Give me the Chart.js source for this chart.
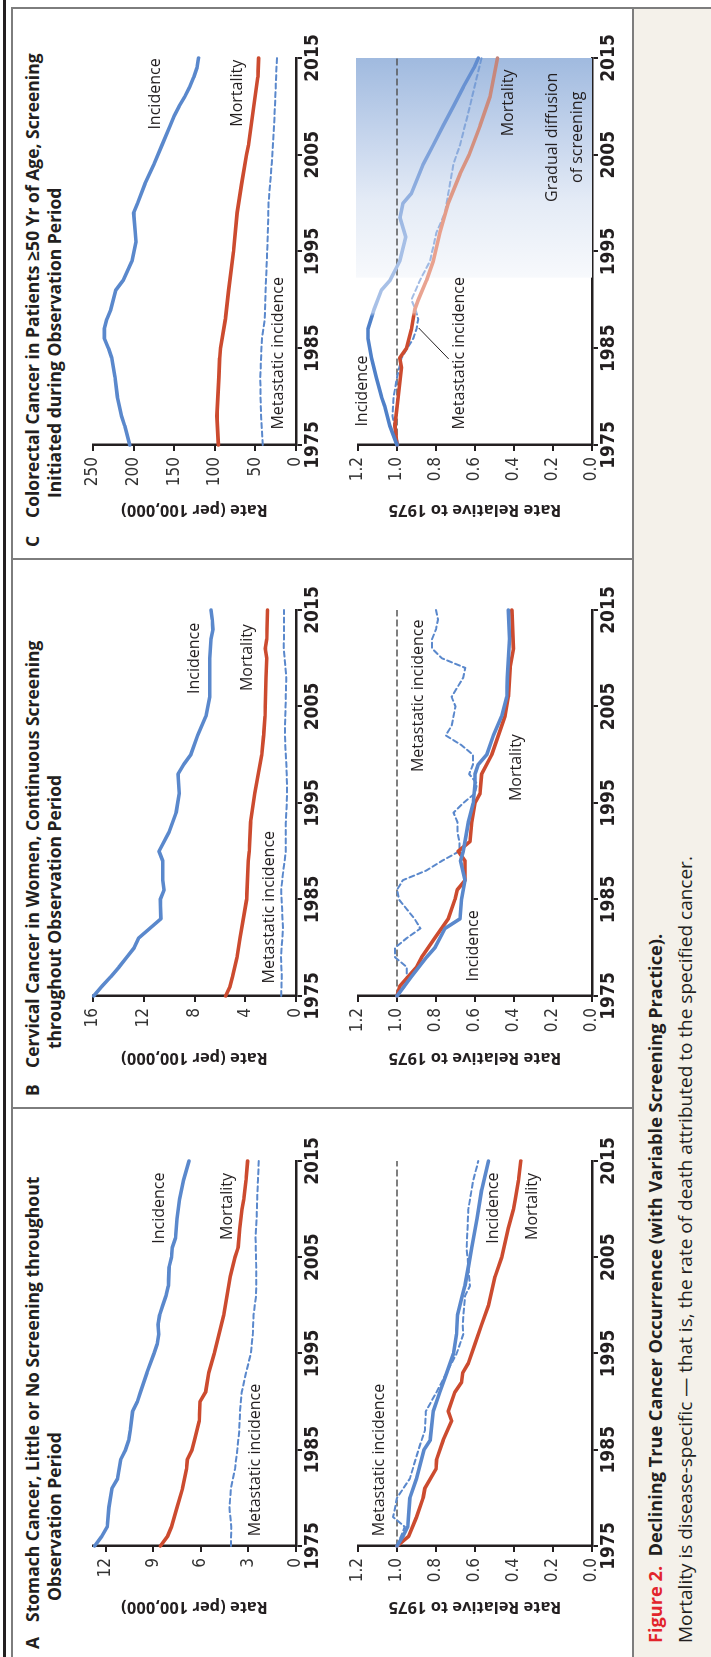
<!DOCTYPE html>
<html>
<head>
<meta charset="utf-8">
<script src="https://cdn.jsdelivr.net/npm/chart.js@4.4.1/dist/chart.umd.min.js"></script>
<style>
html, body { margin: 0; padding: 0; width: 711px; height: 1657px; overflow: hidden; background: #fff; }
/* figure is laid out lying down (1657 x 711) and turned a quarter turn */
#fig { position: absolute; left: 0; top: 0; width: 1657px; height: 711px; transform-origin: 0 0;
       transform: translateY(1657px) rotate(-90deg); background: #fff; font-family: 'Open Sans', Lato, sans-serif; color: #231f20; }
.rule { position: absolute; background: #7d7d7d; }
.ttl { position: absolute; font-weight: bold; font-size: 17.5px; line-height: 20px; white-space: nowrap; }
.cap { position: absolute; line-height: 24px; white-space: nowrap; }
canvas { position: absolute; }
</style>
</head>
<body>
<div id="fig">
  <div style="position:absolute;left:0;top:633px;width:1649px;height:78px;background:#f4f1ea"></div>
  <div style="position:absolute;left:0;top:3px;width:1657px;height:3px;background:#231f20"></div>
  <div class="rule" style="left:0;top:11px;width:1649px;height:1.5px"></div>
  <div class="rule" style="left:1648px;top:11px;width:1.5px;height:700px"></div>
  <div class="rule" style="left:548px;top:11px;width:1.5px;height:622px"></div>
  <div class="rule" style="left:1097px;top:11px;width:1.5px;height:622px"></div>
  <div class="rule" style="left:0;top:632px;width:1649px;height:1.5px"></div>

  <div class="ttl" style="left:8px;top:22px">A</div>
  <div class="ttl" style="left:35px;top:22px">Stomach Cancer, Little or No Screening throughout</div>
  <div class="ttl" style="left:56px;top:44px">Observation Period</div>
  <div class="ttl" style="left:561px;top:22px">B</div>
  <div class="ttl" style="left:589px;top:22px">Cervical Cancer in Women, Continuous Screening</div>
  <div class="ttl" style="left:608px;top:44px">throughout Observation Period</div>
  <div class="ttl" style="left:1110px;top:22px">C</div>
  <div class="ttl" style="left:1139px;top:22px">Colorectal Cancer in Patients ≥50 Yr of Age, Screening</div>
  <div class="ttl" style="left:1159px;top:44px">Initiated during Observation Period</div>

  <div class="cap" style="left:14px;top:643px;font-weight:bold;font-size:18.2px"><span style="color:#e2242b">Figure 2.</span>&nbsp; Declining True Cancer Occurrence (with Variable Screening Practice).</div>
  <div class="cap" style="left:14px;top:673px;font-size:19px">Mortality is disease-specific — that is, the rate of death attributed to the specified cancer.</div>

  <canvas id="aTop" width="548" height="300" style="left:0;top:40px"></canvas>
  <canvas id="aRel" width="548" height="292" style="left:0;top:340px"></canvas>
  <canvas id="bTop" width="548" height="300" style="left:549px;top:40px"></canvas>
  <canvas id="bRel" width="548" height="292" style="left:549px;top:340px"></canvas>
  <canvas id="cTop" width="553" height="300" style="left:1097px;top:40px"></canvas>
  <canvas id="cRel" width="553" height="292" style="left:1097px;top:340px"></canvas>
</div>

<script>
// ---------- values ----------
var yearTicks = [1975, 1985, 1995, 2005, 2015];
var relTicks = [0, 0.2, 0.4, 0.6, 0.8, 1.0, 1.2];
var refYears = [1975, 2015];
var refLevel = [1, 1];

// A  stomach cancer, per 100,000
var aTicks = [0, 3, 6, 9, 12];
var aIncYears = [1975, 1976, 1977, 1979, 1981, 1982, 1984, 1985, 1986, 1987, 1989, 1990, 1991, 1993, 1995, 1996, 1997, 1998, 1999, 2000, 2001, 2002, 2004, 2005, 2006, 2007, 2009, 2011, 2013, 2015];
var aInc = [12.7, 12.25, 11.9, 11.8, 11.6, 11.25, 11.05, 10.75, 10.55, 10.45, 10.3, 10.0, 9.8, 9.4, 8.95, 8.75, 8.65, 8.7, 8.6, 8.4, 8.2, 8.05, 8.0, 7.85, 7.8, 7.6, 7.5, 7.35, 7.1, 6.75];
var aMortYears = [1975, 1976, 1977, 1979, 1981, 1983, 1984, 1985, 1986, 1988, 1990, 1991, 1993, 1995, 1997, 1999, 2001, 2003, 2005, 2006, 2008, 2010, 2011, 2013, 2015];
var aMort = [8.55, 8.1, 7.85, 7.5, 7.15, 6.9, 6.85, 6.55, 6.4, 6.1, 6.05, 5.7, 5.5, 5.15, 4.85, 4.55, 4.35, 4.15, 3.85, 3.65, 3.55, 3.4, 3.3, 3.15, 3.05];
var aMetYears = [1975, 1977, 1979, 1981, 1983, 1985, 1987, 1989, 1991, 1993, 1995, 1997, 1999, 2001, 2003, 2005, 2007, 2009, 2011, 2013, 2015];
var aMet = [4.1, 4.08, 4.2, 4.1, 3.85, 3.7, 3.58, 3.53, 3.42, 3.15, 2.85, 2.72, 2.68, 2.52, 2.5, 2.52, 2.55, 2.48, 2.45, 2.4, 2.35];
// A  relative to 1975
var aRelIncYears = [1975, 1976, 1977, 1980, 1982, 1985, 1986, 1989, 1991, 1993, 1995, 1997, 1999, 2001, 2002, 2004, 2006, 2009, 2012, 2015];
var aRelInc = [1.0, 0.97, 0.945, 0.934, 0.9, 0.862, 0.83, 0.814, 0.78, 0.745, 0.71, 0.695, 0.69, 0.665, 0.652, 0.634, 0.617, 0.59, 0.566, 0.531];
var aRelMortYears = [1975, 1976, 1978, 1980, 1981, 1983, 1984, 1986, 1988, 1989, 1991, 1992, 1993, 1994, 1996, 1998, 2000, 2003, 2005, 2008, 2010, 2011, 2013, 2015];
var aRelMort = [1.0, 0.94, 0.9, 0.866, 0.857, 0.8, 0.797, 0.763, 0.72, 0.737, 0.703, 0.669, 0.663, 0.634, 0.6, 0.566, 0.531, 0.497, 0.463, 0.429, 0.403, 0.394, 0.377, 0.365];
var aRelMetYears = [1975, 1977, 1978, 1980, 1982, 1985, 1987, 1989, 1991, 1994, 1995, 1997, 1998, 2001, 2002, 2004, 2006, 2010, 2011, 2013, 2015];
var aRelMet = [1.0, 0.96, 1.02, 1.0, 0.934, 0.89, 0.857, 0.852, 0.797, 0.72, 0.694, 0.66, 0.663, 0.651, 0.626, 0.634, 0.643, 0.634, 0.626, 0.609, 0.583];

// B  cervical cancer, per 100,000
var bTicks = [0, 4, 8, 12, 16];
var bIncYears = [1975, 1976, 1977, 1978, 1979, 1980, 1981, 1983, 1985, 1986, 1987, 1989, 1990, 1992, 1994, 1996, 1998, 1999, 2000, 2002, 2004, 2006, 2008, 2010, 2012, 2013, 2014, 2015];
var bInc = [15.95, 15.3, 14.6, 13.95, 13.35, 12.75, 12.4, 10.65, 10.7, 10.4, 10.5, 10.5, 10.8, 10.0, 9.45, 9.2, 9.3, 8.85, 8.3, 7.75, 7.1, 6.8, 6.8, 6.8, 6.7, 6.55, 6.6, 6.7];
var bMortYears = [1975, 1976, 1977, 1979, 1981, 1985, 1989, 1990, 1993, 1996, 1998, 2000, 2002, 2004, 2008, 2010, 2011, 2012, 2015];
var bMort = [5.54, 5.2, 5.0, 4.65, 4.42, 3.89, 3.76, 3.68, 3.58, 3.25, 2.97, 2.7, 2.55, 2.44, 2.36, 2.3, 2.42, 2.3, 2.25];
var bMetYears = [1975, 1977, 1979, 1982, 1986, 1988, 1990, 1993, 1996, 1998, 2002, 2005, 2008, 2011, 2015];
var bMet = [1.17, 1.12, 1.18, 1.03, 1.17, 1.0, 0.8, 0.8, 0.7, 0.73, 0.88, 0.82, 0.77, 0.96, 0.94];
// B  relative to 1975
var bRelIncYears = [1975, 1977, 1979, 1980, 1982, 1983, 1985, 1987, 1989, 1990, 1993, 1995, 1997, 1998, 1999, 2000, 2002, 2004, 2006, 2008, 2012, 2015];
var bRelInc = [1.0, 0.926, 0.849, 0.806, 0.754, 0.677, 0.669, 0.651, 0.674, 0.66, 0.634, 0.609, 0.6, 0.6, 0.583, 0.54, 0.506, 0.463, 0.437, 0.434, 0.423, 0.429];
var bRelMortYears = [1975, 1976, 1977, 1978, 1979, 1981, 1983, 1985, 1986, 1987, 1989, 1990, 1991, 1993, 1995, 1996, 1998, 2000, 2004, 2006, 2009, 2011, 2015];
var bRelMort = [1.0, 0.986, 0.943, 0.9, 0.874, 0.806, 0.737, 0.703, 0.691, 0.651, 0.651, 0.686, 0.626, 0.617, 0.6, 0.574, 0.566, 0.514, 0.446, 0.429, 0.42, 0.403, 0.411];
var bRelMetYears = [1975, 1976, 1977, 1978, 1979, 1980, 1981, 1982, 1983, 1984, 1985, 1986, 1987, 1988, 1989, 1990, 1991, 1992, 1993, 1994, 1995, 1996, 1997, 1998, 1999, 2000, 2001, 2002, 2003, 2004, 2005, 2006, 2007, 2008, 2009, 2010, 2011, 2012, 2013, 2014, 2015];
var bRelMet = [1.0, 0.96, 0.95, 0.95, 1.01, 1.01, 0.95, 0.88, 0.91, 0.95, 0.99, 1.0, 0.97, 0.85, 0.77, 0.68, 0.68, 0.69, 0.69, 0.71, 0.66, 0.6, 0.59, 0.63, 0.61, 0.61, 0.67, 0.75, 0.72, 0.71, 0.7, 0.72, 0.69, 0.66, 0.65, 0.77, 0.82, 0.82, 0.8, 0.79, 0.8];

// C  colorectal cancer, per 100,000
var cTicks = [0, 50, 100, 150, 200, 250];
var cIncYears = [1975, 1977, 1978, 1980, 1982, 1984, 1985, 1986, 1987, 1988, 1989, 1991, 1992, 1994, 1996, 1997, 1999, 2000, 2002, 2004, 2006, 2008, 2009, 2010, 2011, 2012, 2013, 2014, 2015];
var cInc = [204.7, 211, 215, 220, 223, 227, 231, 236, 236, 233, 228, 222, 213, 202, 197, 198, 200, 195, 186, 175, 165, 155, 150, 144, 137, 131, 126, 122, 120];
var cMortYears = [1975, 1978, 1982, 1984, 1985, 1988, 1991, 1995, 1999, 2002, 2005, 2006, 2010, 2013, 2015];
var cMort = [95.6, 97.5, 95, 94, 93, 87, 83, 77, 72.5, 67, 61, 58.5, 52, 47, 46];
var cMetYears = [1975, 1979, 1982, 1986, 1988, 1992, 1996, 2000, 2004, 2008, 2012, 2015];
var cMet = [41, 43.5, 44, 42, 38.5, 37, 35, 33.8, 30, 27, 25, 23.5];
// C  relative to 1975
var cRelIncYears = [1975, 1977, 1979, 1980, 1982, 1984, 1986, 1987, 1989, 1991, 1992, 1994, 1996.5, 1998.5, 2000, 2001, 2004, 2006, 2008, 2010, 2012, 2014, 2015];
var cRelInc = [1.0, 1.037, 1.063, 1.08, 1.106, 1.131, 1.149, 1.149, 1.118, 1.08, 1.037, 0.986, 0.955, 0.985, 0.969, 0.926, 0.866, 0.814, 0.763, 0.711, 0.66, 0.605, 0.583];
var cRelMortYears = [1975, 1977, 1980, 1983, 1984, 1985, 1987, 1989, 1990, 1992, 1994, 1997, 2000, 2003, 2005, 2008, 2011, 2015];
var cRelMort = [1.0, 1.011, 0.994, 0.977, 0.986, 0.951, 0.926, 0.909, 0.891, 0.849, 0.814, 0.78, 0.737, 0.677, 0.63, 0.574, 0.523, 0.485];
var cRelMetYears = [1975, 1978, 1980, 1982, 1984, 1986, 1987, 1988, 1989, 1990, 1992, 1994, 1997, 1999, 2001, 2004, 2006, 2010, 2013, 2015];
var cRelMet = [0.994, 1.023, 1.017, 1.0, 0.977, 0.917, 0.9, 0.891, 0.905, 0.926, 0.883, 0.831, 0.797, 0.754, 0.737, 0.711, 0.677, 0.626, 0.591, 0.566];

// ---------- drawing ----------
var INK = '#231f20';
var BLUE = '#5a88cc';
var RED = '#cc4b2f';
var NARROW = "'Liberation Sans Narrow', 'DejaVu Sans Condensed', 'Arial Narrow', sans-serif";
var TEXT = "'Open Sans', Lato, sans-serif";

function pts(xs, ys) {
    return xs.map(function (x, i) { return { x: x, y: ys[i] }; });
}

function solid(xs, ys, color) {
    return { data: pts(xs, ys), borderColor: color, borderWidth: 3.6, clip: false };
}

function dashed(xs, ys, color) {
    return { data: pts(xs, ys), borderColor: color, borderWidth: 2, borderDash: [5, 3.5], clip: false };
}

function refLine() {
    return { data: pts(refYears, refLevel), borderColor: '#555', borderWidth: 1.3, borderDash: [6, 4] };
}

// colour that changes along the time axis (panel C, screening period)
function fade(stops) {
    return function (ctx) {
        var chart = ctx.chart;
        if (!chart.chartArea) return stops[0][1];
        var xs = chart.scales.x;
        var g = chart.ctx.createLinearGradient(xs.getPixelForValue(1975), 0, xs.getPixelForValue(2015), 0);
        stops.forEach(function (s) { g.addColorStop((s[0] - 1975) / 40, s[1]); });
        return g;
    };
}

// text labels, leader line and the shaded box, placed in data units
function notes(id, items, extra) {
    extra = extra || {};
    return {
        id: id,
        beforeDatasetsDraw: function (chart) {
            if (!extra.box) return;
            var c = chart.ctx, x = chart.scales.x, y = chart.scales.y;
            var x0 = x.getPixelForValue(extra.box.from), x1 = x.getPixelForValue(2015);
            var y0 = y.getPixelForValue(1.2) - 2, y1 = y.getPixelForValue(0);
            var g = c.createLinearGradient(x0, 0, x1, 0);
            extra.box.stops.forEach(function (s) { g.addColorStop(s[0], s[1]); });
            c.save();
            c.fillStyle = g;
            c.fillRect(x0, y0, x1 - x0, y1 - y0);
            c.restore();
        },
        afterDatasetsDraw: function (chart) {
            var c = chart.ctx, x = chart.scales.x, y = chart.scales.y;
            c.save();
            c.fillStyle = INK;
            c.font = '16px ' + TEXT;
            c.textBaseline = 'middle';
            items.forEach(function (t) {
                c.textAlign = t[3] || 'left';
                c.fillText(t[0], x.getPixelForValue(t[1]), y.getPixelForValue(t[2]));
            });
            if (extra.leader) {
                var l = extra.leader;
                c.strokeStyle = INK;
                c.lineWidth = 1;
                c.beginPath();
                c.moveTo(x.getPixelForValue(l[0]), y.getPixelForValue(l[1]));
                c.lineTo(x.getPixelForValue(l[2]), y.getPixelForValue(l[3]));
                c.stroke();
            }
            c.restore();
        }
    };
}

function makeChart(id, cfg) {
    return new Chart(document.getElementById(id), {
        type: 'line',
        data: { datasets: cfg.datasets },
        options: {
            responsive: false,
            animation: false,
            events: [],
            layout: { padding: { left: 0, top: cfg.padTop, right: cfg.padRight, bottom: 0 } },
            plugins: { legend: { display: false }, tooltip: { enabled: false } },
            elements: {
                point: { radius: 0 },
                line: { tension: 0, borderJoinStyle: 'round', borderCapStyle: 'round' }
            },
            scales: {
                x: {
                    type: 'linear', min: 1975, max: 2015,
                    afterBuildTicks: function (s) { s.ticks = yearTicks.map(function (v) { return { value: v }; }); },
                    afterFit: function (s) { s.height = cfg.xH; },
                    ticks: {
                        callback: function (v) { return String(v); },
                        font: { family: NARROW, size: 19, weight: 'bold' }, color: INK,
                        padding: 0, maxRotation: 0, autoSkip: false
                    },
                    grid: { drawOnChartArea: false, drawTicks: true, tickLength: 6, color: INK, lineWidth: 2 },
                    border: { display: true, color: INK, width: 2.5 }
                },
                y: {
                    min: 0, max: cfg.max,
                    afterBuildTicks: function (s) { s.ticks = cfg.ticks.map(function (v) { return { value: v }; }); },
                    afterFit: function (s) { s.width = cfg.yW; },
                    ticks: {
                        callback: cfg.fmt,
                        font: { family: NARROW, size: 17 }, color: '#333',
                        padding: 6, autoSkip: false
                    },
                    grid: { drawOnChartArea: false, drawTicks: true, tickLength: 6, color: INK, lineWidth: 2 },
                    border: { display: true, color: INK, width: 2.5 },
                    title: {
                        display: true, text: cfg.title, color: INK,
                        font: { family: TEXT, size: 16.5, weight: 'bold' },
                        padding: { top: 40, bottom: 0 }
                    }
                }
            }
        },
        plugins: [notes(id + 'Notes', cfg.labels, cfg.extra)]
    });
}

var asInt = function (v) { return String(v); };
var asRel = function (v) { return v.toFixed(1); };
var TOP = { padTop: 53, xH: 44, title: 'Rate (per 100,000)', fmt: asInt };
var REL = { padTop: 18, xH: 40, title: 'Rate Relative to 1975', fmt: asRel, max: 1.2, ticks: relTicks };

function build(base, more) {
    var o = {};
    Object.keys(base).forEach(function (k) { o[k] = base[k]; });
    Object.keys(more).forEach(function (k) { o[k] = more[k]; });
    return o;
}

// ----- panel A -----
makeChart('aTop', build(TOP, {
    yW: 111, padRight: 52, max: 12.8, ticks: aTicks,
    datasets: [solid(aIncYears, aInc, BLUE), solid(aMortYears, aMort, RED), dashed(aMetYears, aMet, BLUE)],
    labels: [['Incidence', 2006.4, 8.6], ['Mortality', 2006.8, 4.33], ['Metastatic incidence', 1976.0, 2.57]]
}));
makeChart('aRel', build(REL, {
    yW: 111, padRight: 52,
    datasets: [solid(aRelIncYears, aRelInc, BLUE), solid(aRelMortYears, aRelMort, RED), dashed(aRelMetYears, aRelMet, BLUE), refLine()],
    labels: [['Incidence', 2006.4, 0.508], ['Mortality', 2006.8, 0.308], ['Metastatic incidence', 1976.0, 1.091]]
}));

// ----- panel B -----
makeChart('bTop', build(TOP, {
    yW: 112, padRight: 50, max: 16, ticks: bTicks,
    datasets: [solid(bIncYears, bInc, BLUE), solid(bMortYears, bMort, RED), dashed(bMetYears, bMet, BLUE)],
    labels: [['Incidence', 2006.3, 8.02], ['Mortality', 2006.6, 3.79], ['Metastatic incidence', 1976.3, 2.07]]
}));
makeChart('bRel', build(REL, {
    yW: 112, padRight: 50,
    datasets: [solid(bRelIncYears, bRelInc, BLUE), solid(bRelMortYears, bRelMort, RED), dashed(bRelMetYears, bRelMet, BLUE), refLine()],
    labels: [['Incidence', 1976.5, 0.607], ['Mortality', 1995.2, 0.385], ['Metastatic incidence', 1998.2, 0.889]]
}));

// ----- panel C -----
makeChart('cTop', build(TOP, {
    yW: 115, padRight: 51, max: 250, ticks: cTicks,
    datasets: [solid(cIncYears, cInc, BLUE), solid(cMortYears, cMort, RED), dashed(cMetYears, cMet, BLUE)],
    labels: [['Incidence', 2007.6, 172.8], ['Mortality', 2007.9, 72.7], ['Metastatic incidence', 1976.6, 21.7]]
}));

var cInc2 = solid(cRelIncYears, cRelInc, BLUE);
cInc2.borderColor = fade([[1975, '#4f80c8'], [1988.3, '#4f80c8'], [1988.7, '#a9c1e7'], [1996, '#a6bfe6'], [2005, '#7fa2da'], [2015, '#5f8bcf']]);
var cMort2 = solid(cRelMortYears, cRelMort, RED);
cMort2.borderColor = fade([[1975, RED], [1988.3, RED], [1988.7, '#e9a593'], [1997, '#e9a08c'], [2006, '#d3907f'], [2015, '#c4857b']]);
var cMet2 = dashed(cRelMetYears, cRelMet, BLUE);
cMet2.borderColor = fade([[1975, BLUE], [1988.3, BLUE], [1988.7, '#a7bfe6'], [2005, '#8eaddd'], [2015, '#7098d3']]);

makeChart('cRel', build(REL, {
    yW: 115, padRight: 51,
    datasets: [cInc2, cMort2, cMet2, refLine()],
    labels: [
        ['Incidence', 1976.9, 1.179], ['Metastatic incidence', 1976.6, 0.679], ['Mortality', 2006.9, 0.428],
        ['Gradual diffusion', 2006.8, 0.205, 'center'], ['of screening', 2006.8, 0.077, 'center']
    ],
    extra: {
        box: { from: 1992.3, stops: [[0, '#f7f9fc'], [0.35, '#e4ebf6'], [0.6, '#cad8ee'], [1, '#a0badf']] },
        leader: [1983.9, 0.735, 1987.1, 0.889]
    }
}));
</script>
</body>
</html>
